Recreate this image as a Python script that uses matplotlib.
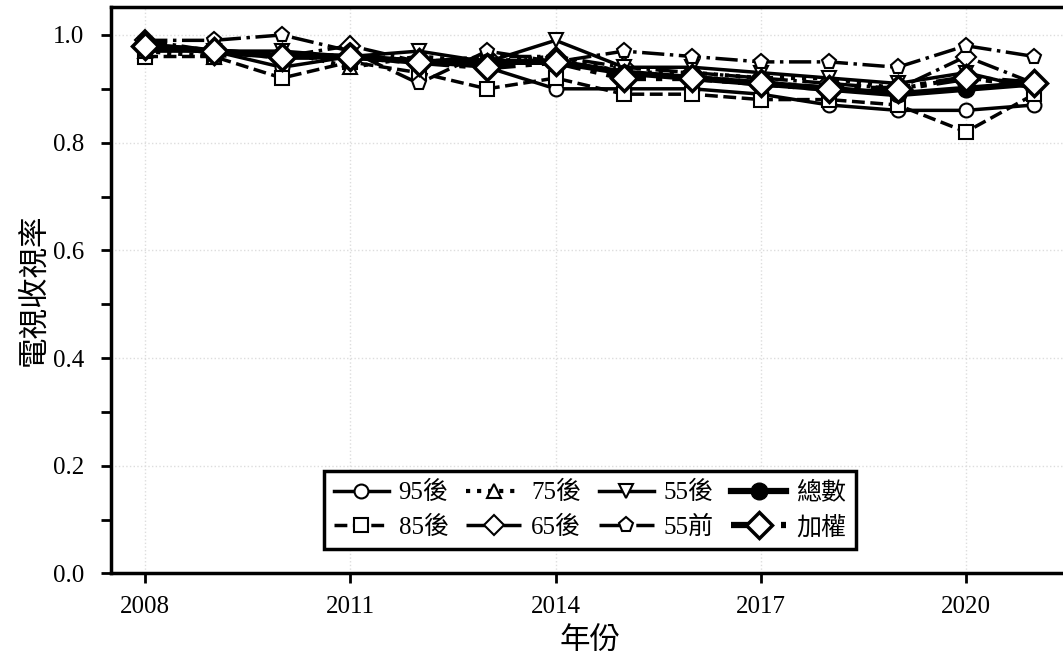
import matplotlib
matplotlib.use('Agg')
from matplotlib import pyplot as plt
from matplotlib.ticker import MultipleLocator

plt.rcParams['font.family'] = ['Liberation Serif', 'Noto Sans CJK TC']

years = list(range(2008, 2022))

after95 = [0.97, 0.97, 0.94, 0.96, 0.95, 0.94, 0.90, 0.90, 0.90, 0.89, 0.87, 0.86, 0.86, 0.87]
after85 = [0.96, 0.96, 0.92, 0.95, 0.93, 0.90, 0.92, 0.89, 0.89, 0.88, 0.88, 0.87, 0.82, 0.89]
after75 = [0.97, 0.96, 0.97, 0.94, 0.96, 0.95, 0.96, 0.93, 0.93, 0.92, 0.92, 0.90, 0.92, 0.91]
after65 = [0.99, 0.97, 0.96, 0.98, 0.95, 0.96, 0.96, 0.94, 0.93, 0.92, 0.91, 0.90, 0.96, 0.91]
after55 = [0.98, 0.97, 0.97, 0.96, 0.97, 0.95, 0.99, 0.94, 0.94, 0.93, 0.92, 0.91, 0.93, 0.90]
before55 = [0.99, 0.99, 1.00, 0.97, 0.91, 0.97, 0.95, 0.97, 0.96, 0.95, 0.95, 0.94, 0.98, 0.96]
total = [0.98, 0.97, 0.96, 0.96, 0.95, 0.95, 0.95, 0.93, 0.92, 0.91, 0.90, 0.89, 0.90, 0.91]
weighted = [0.98, 0.97, 0.96, 0.96, 0.95, 0.94, 0.95, 0.92, 0.92, 0.91, 0.90, 0.90, 0.92, 0.91]

fig = plt.figure(figsize=(10.63, 6.69), dpi=100)
ax = fig.add_axes([0.1044, 0.1428, 0.9008, 0.8468])

# thin series
ax.plot(years, after95, '-', marker='o', color='k', lw=2.5, ms=10, mfc='white', mec='k', mew=1.5, label='95後')
ax.plot(years, after85, '--', marker='s', color='k', lw=2.5, ms=10, mfc='white', mec='k', mew=1.5, label='85後')
ax.plot(years, after75, ':', marker='^', color='k', lw=3, ms=10, mfc='white', mec='k', mew=1.5, label='75後')
ax.plot(years, after65, '-.', marker='D', color='k', lw=2.5, ms=10, mfc='white', mec='k', mew=1.5, label='65後')
ax.plot(years, after55, '-', marker='v', color='k', lw=2.5, ms=10, mfc='white', mec='k', mew=1.5, label='55後')
ax.plot(years, before55, '-.', marker='p', color='k', lw=2.5, ms=11, mfc='white', mec='k', mew=1.5, label='55前')
# thick series
ax.plot(years, total, '-', marker='o', color='k', lw=4.5, ms=12, mfc='k', mec='k', label='總數')
ax.plot(years, weighted, '-.', marker='D', color='k', lw=4.5, ms=13, mfc='white', mec='k', mew=2.5, label='加權')

ax.set_xlim(2007.5, 2021.5)
ax.set_ylim(0, 1.052)
ax.set_xticks([2008, 2011, 2014, 2017, 2020])
ax.yaxis.set_major_locator(MultipleLocator(0.2))
ax.yaxis.set_minor_locator(MultipleLocator(0.1))
ax.yaxis.set_major_formatter(matplotlib.ticker.FormatStrFormatter('%.1f'))
ax.tick_params(axis='both', which='both', direction='out', length=7, width=2, labelsize=18)
ax.tick_params(axis='x', pad=9)
ax.tick_params(axis='y', pad=12)
ax.grid(True, which='major', color='#dddddd', linestyle=':', linewidth=1)
for s in ax.spines.values():
    s.set_linewidth(2.5)

ax.set_xlabel('年份', fontsize=22, family=['Noto Sans CJK TC'], labelpad=6)
ax.set_ylabel('電視收視率', fontsize=22, family=['Noto Sans CJK TC'], labelpad=3)

h, l = ax.get_legend_handles_labels()
leg = ax.legend(h, l, ncol=4, loc='lower center',
                bbox_to_anchor=(0.5, 0.043), borderaxespad=0, fancybox=False, framealpha=1,
                edgecolor='k', prop={'family': ['Liberation Serif', 'Noto Sans CJK TC'], 'size': 18},
                handlelength=2.2, columnspacing=0.7, handletextpad=0.4, labelspacing=0.45,
                borderpad=0.4)
leg.get_frame().set_linewidth(2.5)

fig.savefig('out.png', dpi=100)
